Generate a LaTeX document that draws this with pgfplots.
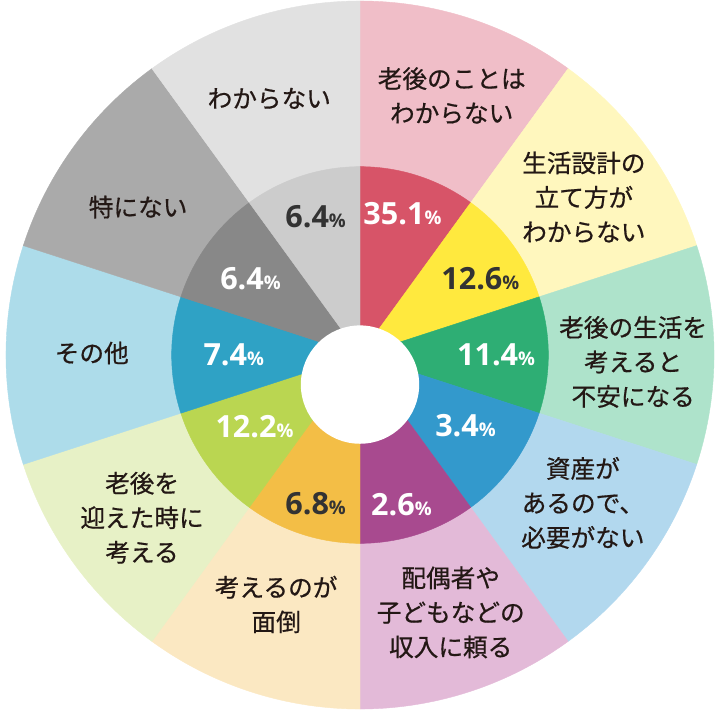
\documentclass[border=0pt]{standalone}
\usepackage{pgfplots}
\pgfplotsset{compat=1.18}
\usepackage{pgfplotstable}
\usepackage{fontspec}
\newfontfamily\jp{Noto Sans CJK JP}[FakeBold=0.6]
\newfontfamily\numf{Open Sans}
\definecolor{i1}{HTML}{D75468}\definecolor{o1}{HTML}{F0BEC8}
\definecolor{i2}{HTML}{FFE93E}\definecolor{o2}{HTML}{FFF7BE}
\definecolor{i3}{HTML}{2EAE74}\definecolor{o3}{HTML}{AEE3CB}
\definecolor{i4}{HTML}{3399CC}\definecolor{o4}{HTML}{B2D8EE}
\definecolor{i5}{HTML}{A84A8F}\definecolor{o5}{HTML}{E3BAD8}
\definecolor{i6}{HTML}{F3BE46}\definecolor{o6}{HTML}{FBE8C2}
\definecolor{i7}{HTML}{BAD651}\definecolor{o7}{HTML}{E7F1C6}
\definecolor{i8}{HTML}{2FA2C5}\definecolor{o8}{HTML}{ADDCEA}
\definecolor{i9}{HTML}{888888}\definecolor{o9}{HTML}{AAAAAA}
\definecolor{i10}{HTML}{CCCCCC}\definecolor{o10}{HTML}{E1E1E1}
\definecolor{lab}{HTML}{231815}
\definecolor{dk}{HTML}{333333}
\newcommand{\pct}[1]{{\numf\bfseries\fontsize{31}{31}\selectfont #1\fontsize{19}{19}\selectfont\%}}
% sector: color, radius, start angle, end angle
\newcommand{\sector}[4]{\fill[#1,draw=#1,line width=0.4pt] (axis cs:0,0) -- (axis cs:{#2*cos(#3)},{#2*sin(#3)}) arc[start angle=#3,end angle=#4,radius=#2pt] -- cycle;}
\pgfplotstableread{
x y label
43 143 35.1
138 0 11.4
107 -72 3.4
42 -152 2.6
-107 -73 12.2
-128 0 7.4
-111 77 6.4
}\whitepct
\pgfplotstableread{
x y label
122 77 12.6
-45 -151 6.8
-45 140 6.4
}\darkpct
\begin{document}
\begin{tikzpicture}
\begin{axis}[width=720pt,height=720pt,scale only axis,
  xmin=-360,xmax=360,ymin=-360,ymax=360,hide axis,clip=false]
\path (axis cs:-360,-360) rectangle (axis cs:360,360);
\sector{o1}{359}{90}{54}
\sector{o2}{359}{54}{18}
\sector{o3}{359}{18}{-18}
\sector{o4}{359}{-18}{-54}
\sector{o5}{359}{-54}{-90}
\sector{o6}{359}{-90}{-126}
\sector{o7}{359}{-126}{-162}
\sector{o8}{359}{-162}{-198}
\sector{o9}{359}{-198}{-234}
\sector{o10}{359}{-234}{-270}
\sector{i1}{191}{90}{54}
\sector{i2}{191}{54}{18}
\sector{i3}{191}{18}{-18}
\sector{i4}{191}{-18}{-54}
\sector{i5}{191}{-54}{-90}
\sector{i6}{191}{-90}{-126}
\sector{i7}{191}{-126}{-162}
\sector{i8}{191}{-162}{-198}
\sector{i9}{191}{-198}{-234}
\sector{i10}{191}{-234}{-270}
\fill[white] (axis cs:0,-30) circle[radius=60pt];
\addplot[only marks,mark=none,point meta=explicit symbolic,
  nodes near coords={\pct{\pgfplotspointmeta}},
  nodes near coords style={anchor=center,text=white,inner sep=0pt}]
  table[meta=label]{\whitepct};
\addplot[only marks,mark=none,point meta=explicit symbolic,
  nodes near coords={\pct{\pgfplotspointmeta}},
  nodes near coords style={anchor=center,text=dk,inner sep=0pt}]
  table[meta=label]{\darkpct};
\tikzset{lbl/.style={align=center,text=lab,inner sep=0pt,font=\jp\fontsize{25}{35}\selectfont}}
\node[lbl] at (axis cs:93,263) {老後のことは\\わからない};
\node[lbl] at (axis cs:227,160) {生活設計の\\立て方が\\わからない};
\node[lbl] at (axis cs:277,-7) {老後の生活を\\考えると\\不安になる};
\node[lbl] at (axis cs:226,-150) {資産が\\あるので、\\必要がない};
\node[lbl] at (axis cs:92,-261) {配偶者や\\子どもなどの\\収入に頼る};
\node[lbl] at (axis cs:-85,-253) {考えるのが\\面倒};
\node[lbl] at (axis cs:-221,-165) {老後を\\迎えた時に\\考える};
\node[lbl] at (axis cs:-272,2) {その他};
\node[lbl] at (axis cs:-225,150) {特にない};
\node[lbl] at (axis cs:-92,260) {わからない};
\end{axis}
\end{tikzpicture}
\end{document}
